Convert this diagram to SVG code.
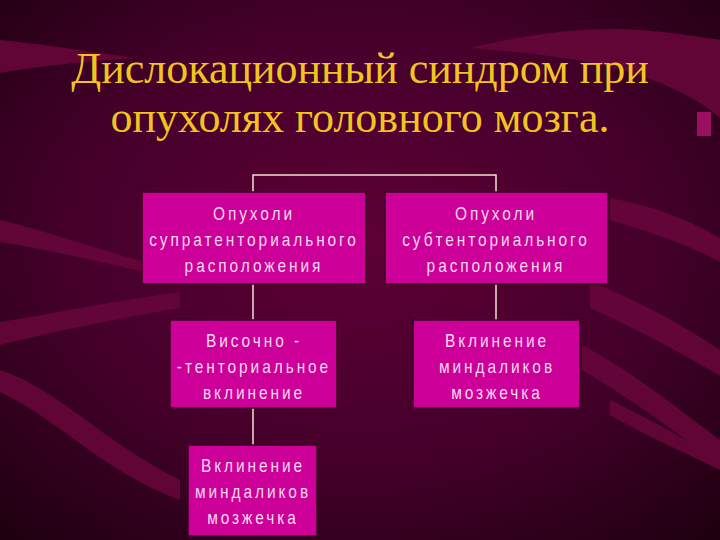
<svg xmlns="http://www.w3.org/2000/svg" width="720" height="540" viewBox="0 0 720 540">
<defs>
<radialGradient id="bg" cx="0.5" cy="0.45" r="0.75">
<stop offset="0" stop-color="#5e0036"/>
<stop offset="0.55" stop-color="#44002a"/>
<stop offset="1" stop-color="#1c000e"/>
</radialGradient>
<style>
.rib{fill:#66063a;opacity:0.9}
.box{fill:#cc0099;stroke:#3a0020;stroke-width:1.5}
.lbl{font-family:"Liberation Sans",Arial,sans-serif;font-size:18px;letter-spacing:3.4px;fill:#f6d8ee;text-anchor:middle}
.title{font-family:"Liberation Serif","Times New Roman",serif;font-size:44px;fill:#f2c420;text-anchor:middle}
.con{stroke:#f0e2d4;stroke-width:1.5;fill:none}
</style>
</defs>
<rect width="720" height="540" fill="url(#bg)"/>
<g id="background">
<path class="rib" d="M0 40 C40 44 80 50 135 58 C80 62 40 66 0 73 Z"/>
<path class="rib" d="M470 48 C520 36 580 26 640 30 C680 33 705 38 720 40 L720 118 C700 100 670 85 630 72 C580 58 520 52 470 48 Z"/>
<rect x="697" y="112" width="14" height="24" fill="#9a1060"/>
<path class="rib" d="M0 220 C50 232 100 250 145 262 L145 272 C100 262 50 250 0 242 Z"/>
<path class="rib" d="M0 322 C60 312 120 300 180 292 L180 308 C120 318 60 330 0 345 Z"/>
<path class="rib" d="M0 370 C60 390 100 440 180 480 L180 500 C100 470 60 420 0 392 Z"/>
<path class="rib" d="M610 198 C650 205 690 220 720 238 L720 262 C690 245 650 232 610 220 Z"/>
<path class="rib" d="M590 282 C640 300 690 330 720 350 L720 376 C690 358 640 330 590 308 Z"/>
<path class="rib" d="M582 345 C630 370 680 410 720 440 L720 465 C680 435 630 398 582 370 Z"/>
<path class="rib" d="M610 400 C650 420 690 440 720 462 L720 470 C690 455 650 438 610 415 Z"/>
</g>
<g id="title">
<text class="title" x="360" y="83">Дислокационный синдром при</text>
<text class="title" x="360" y="132">опухолях головного мозга.</text>
</g>
<g id="connectors">
<path class="con" d="M253 192 V175 H496 V192"/>
<path class="con" d="M253 284 V320"/>
<path class="con" d="M496 284 V320"/>
<path class="con" d="M253 408 V445"/>
</g>
<g id="node1">
<rect class="box" x="142" y="192" width="224" height="92"/>
<text class="lbl" transform="translate(254 220) scale(0.86 1)">Опухоли</text>
<text class="lbl" transform="translate(254 246) scale(0.86 1)">супратенториального</text>
<text class="lbl" transform="translate(254 272) scale(0.86 1)">расположения</text>
</g>
<g id="node2">
<rect class="box" x="385" y="192" width="223" height="92"/>
<text class="lbl" transform="translate(496 220) scale(0.86 1)">Опухоли</text>
<text class="lbl" transform="translate(496 246) scale(0.86 1)">субтенториального</text>
<text class="lbl" transform="translate(496 272) scale(0.86 1)">расположения</text>
</g>
<g id="node3">
<rect class="box" x="170" y="320" width="167" height="88"/>
<text class="lbl" transform="translate(254 347) scale(0.86 1)">Височно -</text>
<text class="lbl" transform="translate(254 373) scale(0.86 1)">-тенториальное</text>
<text class="lbl" transform="translate(254 399) scale(0.86 1)">вклинение</text>
</g>
<g id="node4">
<rect class="box" x="413" y="320" width="167" height="88"/>
<text class="lbl" transform="translate(497 347) scale(0.86 1)">Вклинение</text>
<text class="lbl" transform="translate(497 373) scale(0.86 1)">миндаликов</text>
<text class="lbl" transform="translate(497 399) scale(0.86 1)">мозжечка</text>
</g>
<g id="node5">
<rect class="box" x="188" y="445" width="129" height="91"/>
<text class="lbl" transform="translate(253 472) scale(0.86 1)">Вклинение</text>
<text class="lbl" transform="translate(253 498) scale(0.86 1)">миндаликов</text>
<text class="lbl" transform="translate(253 524) scale(0.86 1)">мозжечка</text>
</g>
</svg>
